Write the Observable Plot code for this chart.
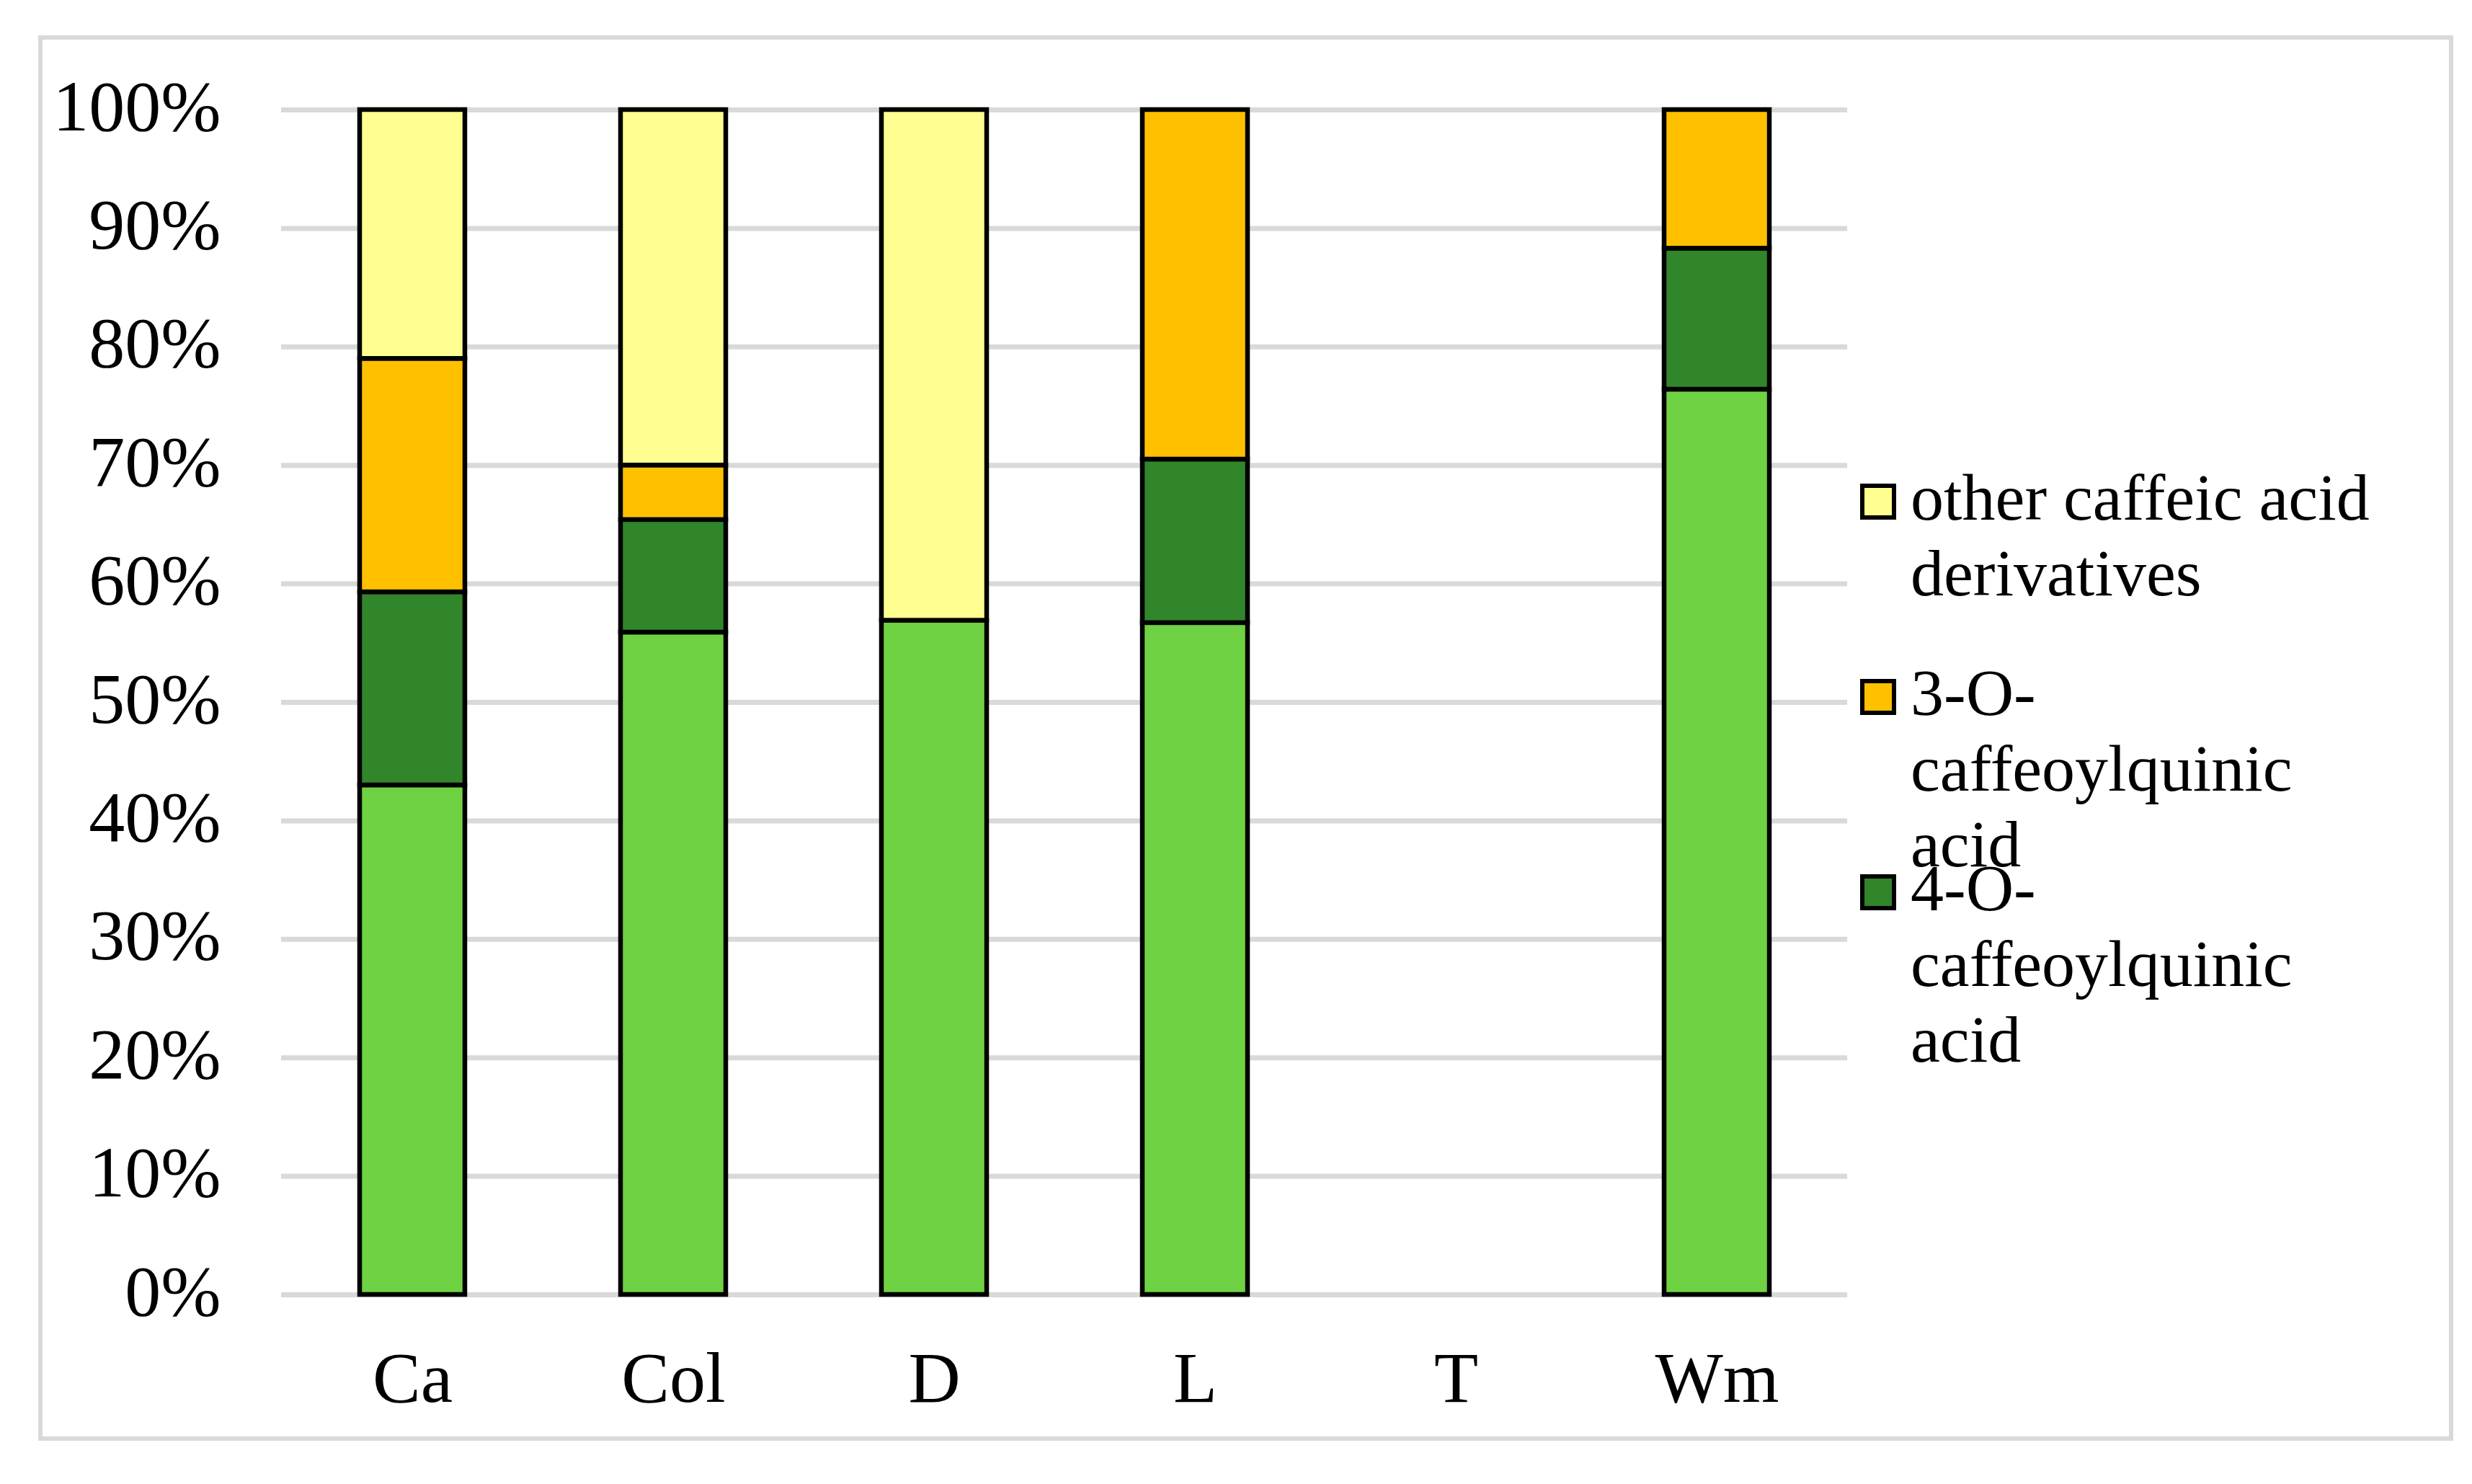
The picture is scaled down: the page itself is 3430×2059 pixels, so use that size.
<!DOCTYPE html>
<html>
<head>
<meta charset="utf-8">
<script src="https://cdn.jsdelivr.net/npm/d3@7"></script>
<script src="https://cdn.jsdelivr.net/npm/@observablehq/plot@0.6"></script>
<style>
  html, body { margin: 0; padding: 0; background: #ffffff; }
  #wrap { position: relative; width: 3430px; height: 2059px; overflow: hidden;
          font-family: "Liberation Serif", "Times New Roman", serif; background: #fff; }
  #border { position: absolute; left: 53px; top: 49px; width: 3339px; height: 1938px;
            border: 6px solid #d9d9d9; box-sizing: content-box; pointer-events: none; }
  #chart { position: absolute; left: 0; top: 0; }
  .item { position: absolute; left: 2581px; }
  .sw { position: absolute; left: 0; top: 33px; width: 38px; height: 38px; border: 6px solid #000; }
  .lbl { position: absolute; left: 70px; top: 0; font-size: 92px; line-height: 105px;
         white-space: nowrap; color: #000; font-family: "Liberation Serif", "Times New Roman", serif; }
</style>
</head>
<body>
<div id="wrap">
  <div id="border"></div>
  <div id="chart"></div>
  <div id="legend"></div>
</div>
<script>
// ---- data (percent of total) ----
const categories = ["Ca", "Col", "D", "L", "T", "Wm"];
const seriesNames = [
  "5-O-caffeoylquinic acid",
  "4-O-caffeoylquinic acid",
  "3-O-caffeoylquinic acid",
  "other caffeic acid derivatives"
];
const fiveO  = [43.0, 55.9, 56.9, 56.7, 0, 76.4];
const fourO  = [16.3,  9.5,  0.0, 13.8, 0, 11.9];
const threeO = [19.7,  4.6,  0.0, 29.5, 0, 11.7];
const other  = [21.0, 30.0, 43.1,  0.0, 0,  0.0];
const yTicks = [0, 10, 20, 30, 40, 50, 60, 70, 80, 90, 100];
const seriesColors = ["#6fd243", "#31852b", "#ffc000", "#ffff91"];
// legend (as in the reference, only three entries are shown, top to bottom)
const legendSeries = [3, 2, 1];
const legendLines = [
  ["other caffeic acid", "derivatives"],
  ["3-O-", "caffeoylquinic", "acid"],
  ["4-O-", "caffeoylquinic", "acid"]
];

const seriesValues = [fiveO, fourO, threeO, other];
const rows = [];
categories.forEach((c, i) => {
  seriesValues.forEach((vals, s) => {
    if (vals[i] > 0) rows.push({category: c, series: seriesNames[s], value: vals[i]});
  });
});

const plot = Plot.plot({
  width: 3430,
  height: 2059,
  marginLeft: 390,
  marginRight: 867,
  marginTop: 152,
  marginBottom: 263,
  style: {fontFamily: "'Liberation Serif', 'Times New Roman', serif", fontSize: "100px", color: "#000", background: "transparent"},
  x: {domain: categories, paddingInner: 0.597, paddingOuter: 0.2985, label: null},
  y: {domain: [0, 100], label: null},
  color: {domain: seriesNames, range: seriesColors},
  marks: [
    Plot.ruleY(yTicks, {stroke: "#d9d9d9", strokeWidth: 7}),
    Plot.axisY({ticks: yTicks, tickSize: 0, tickPadding: 84, tickFormat: d => d + "%", fontSize: 100, label: null, dy: -4}),
    Plot.axisX({tickSize: 0, tickPadding: 77, fontSize: 100, label: null}),
    Plot.barY(rows, {x: "category", y: "value", fill: "series", stroke: "#000", strokeWidth: 6.5,
                     order: seriesNames, inset: 0})
  ]
});
document.getElementById("chart").appendChild(plot);

// legend
const legend = document.getElementById("legend");
legendSeries.forEach((si, i) => {
  const item = document.createElement("div");
  item.className = "item";
  item.style.top = (638 + i * 271) + "px";
  const sw = document.createElement("div");
  sw.className = "sw";
  sw.style.background = seriesColors[si];
  const lbl = document.createElement("div");
  lbl.className = "lbl";
  legendLines[i].forEach((line, k) => {
    if (k > 0) lbl.appendChild(document.createElement("br"));
    lbl.appendChild(document.createTextNode(line));
  });
  item.appendChild(sw);
  item.appendChild(lbl);
  legend.appendChild(item);
});
</script>
</body>
</html>
